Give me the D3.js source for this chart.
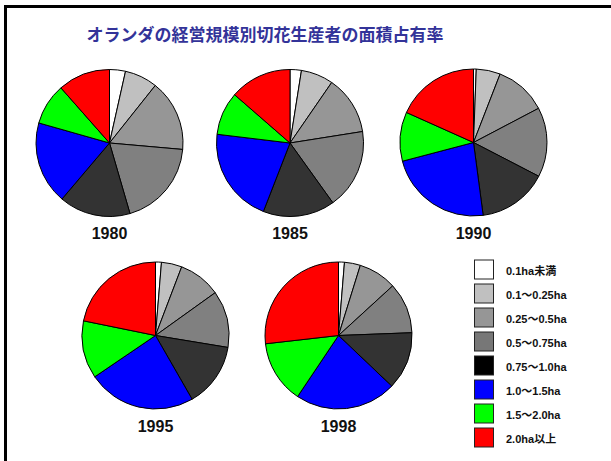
<!DOCTYPE html>
<html>
<head>
<meta charset="utf-8">
<script src="https://cdn.jsdelivr.net/npm/d3@7"></script>
<style>
  body { margin: 0; background: #fff; }
</style>
</head>
<body>
<div id="chart"></div>
<script>
// data: share of area by farm size (%)
var years = ["1980", "1985", "1990", "1995", "1998"];
var classes = ["0.1ha未満", "0.1〜0.25ha", "0.25〜0.5ha", "0.5〜0.75ha",
               "0.75〜1.0ha", "1.0〜1.5ha", "1.5〜2.0ha", "2.0ha以上"];
var share1980 = [3.5, 7.2, 15.7, 19.1, 15.7, 18.2, 9.1, 11.5];
var share1985 = [2.5, 7.1, 12.9, 17.6, 15.8, 21.0, 9.5, 13.6];
var share1990 = [0.6, 5.3, 11.4, 15.3, 15.3, 23.0, 10.8, 18.3];
var share1995 = [1.3, 4.5, 9.3, 12.5, 14.1, 23.8, 12.7, 21.8];
var share1998 = [1.3, 3.5, 8.4, 11.2, 12.7, 22.3, 13.8, 26.8];
var shares = [share1980, share1985, share1990, share1995, share1998];

var svgWidth = 611;
var svgHeight = 461;

var svg = d3.select("#chart")
  .append("svg")
  .attr("width", svgWidth)
  .attr("height", svgHeight);

// frame (only top/left visible)
svg.append("rect")
  .attr("x", 5.5).attr("y", 6.5)
  .attr("width", 700).attr("height", 600)
  .attr("fill", "none")
  .attr("stroke", "#000")
  .attr("stroke-width", 3);

svg.append("text")
  .attr("x", 265)
  .attr("y", 41)
  .attr("text-anchor", "middle")
  .attr("font-family", "'Noto Sans CJK JP', sans-serif")
  .attr("font-weight", "bold")
  .attr("font-size", "17px")
  .attr("fill", "#333399")
  .text("オランダの経営規模別切花生産者の面積占有率");

var pieColor = d3.scaleOrdinal()
  .domain(classes)
  .range(["#ffffff", "#c0c0c0", "#969696", "#808080", "#333333", "#0000ff", "#00ff00", "#ff0000"]);
var legendColor = d3.scaleOrdinal()
  .domain(classes)
  .range(["#ffffff", "#c0c0c0", "#969696", "#777777", "#000000", "#0000ff", "#00ff00", "#ff0000"]);

// pie centres
var centers = [[109.5, 143], [290, 143], [473.5, 142.5], [155.5, 335.5], [338.5, 335.5]];
var radius = 73.5;

var pie = d3.pie().sort(null).value(d => d);
var arc = d3.arc().innerRadius(0).outerRadius(radius);

years.forEach((yr, i) => {
  var g = svg.append("g")
    .attr("transform", `translate(${centers[i][0]}, ${centers[i][1]})`);

  g.selectAll("path")
    .data(pie(shares[i]))
    .enter()
    .append("path")
    .attr("d", arc)
    .attr("fill", (d, j) => pieColor(classes[j]))
    .attr("stroke", "#000")
    .attr("stroke-width", 1);

  g.append("text")
    .attr("x", 0)
    .attr("y", radius + 22.5)
    .attr("text-anchor", "middle")
    .attr("font-family", "Arial, 'Liberation Sans', sans-serif")
    .attr("font-weight", "bold")
    .attr("font-size", "16px")
    .attr("fill", "#111")
    .text(yr);
});

// legend
var legend = svg.append("g")
  .attr("transform", "translate(474, 259.5)");

var rows = legend.selectAll("g")
  .data(classes)
  .enter()
  .append("g")
  .attr("transform", (d, i) => `translate(0, ${i * 24})`);

rows.append("rect")
  .attr("x", 0.5).attr("y", 0.5)
  .attr("width", 19).attr("height", 19)
  .attr("fill", d => legendColor(d))
  .attr("stroke", "#222")
  .attr("stroke-width", 1);

rows.append("text")
  .attr("x", 32)
  .attr("y", 15)
  .attr("font-family", "Arial, 'Liberation Sans', 'Noto Sans CJK JP', sans-serif")
  .attr("font-weight", "bold")
  .attr("font-size", "11px")
  .attr("fill", "#111")
  .text(d => d);
</script>
</body>
</html>
